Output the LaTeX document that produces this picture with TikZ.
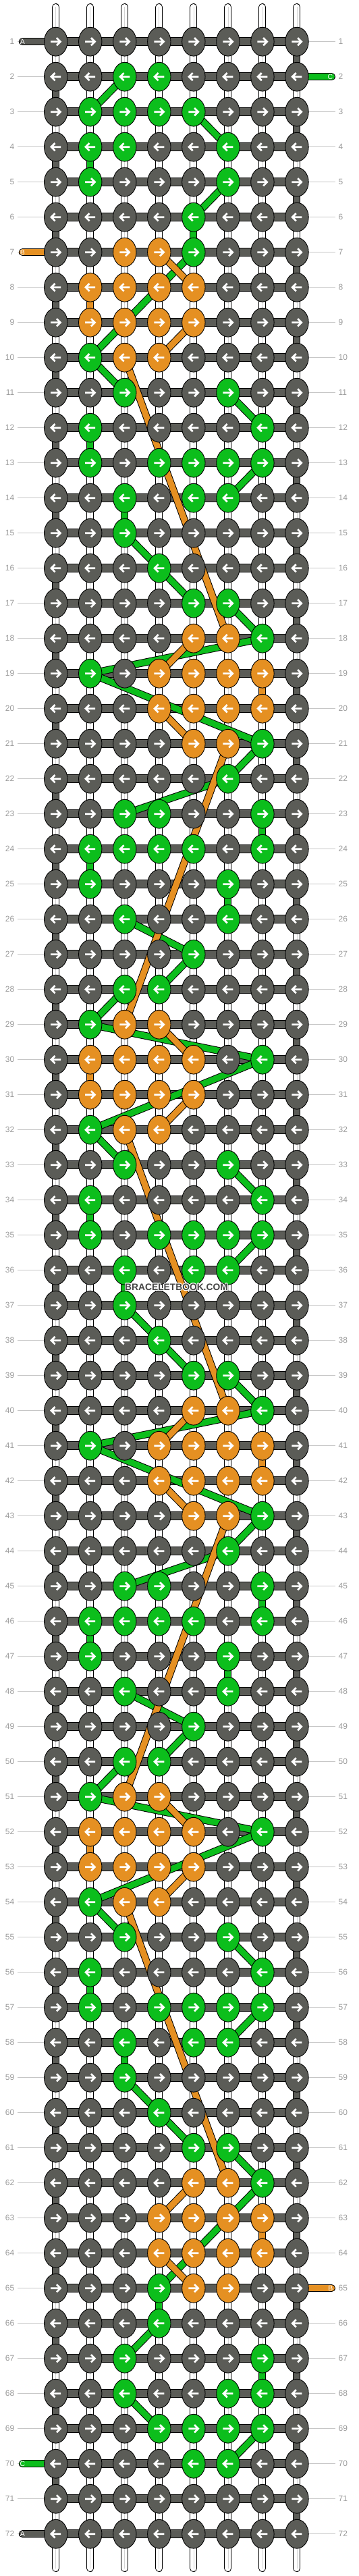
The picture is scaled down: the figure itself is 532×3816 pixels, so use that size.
\documentclass[tikz,border=0pt]{standalone}
\usepackage{fontspec}
\setmainfont{Liberation Sans}
\usetikzlibrary{shapes.geometric}
\definecolor{knotgray}{HTML}{5B5C57}
\definecolor{grn}{HTML}{0CBE1C}
\definecolor{org}{HTML}{E59022}
\definecolor{lbl}{HTML}{9B9B9B}
\definecolor{lblline}{HTML}{C6C6C6}
\definecolor{wmark}{HTML}{454545}
\definecolor{strmid}{HTML}{D4D4D4}
\pgfdeclarelayer{strings}
\pgfdeclarelayer{conn}
\pgfsetlayers{strings,conn,main}
\begin{document}
\begin{tikzpicture}[x=1pt,y=-1pt,
 knot/.style={ellipse, draw=black, line width=0.9pt, minimum width=34.4pt, minimum height=42.8pt, inner sep=0pt},
 arrowline/.style={white, line width=2.7pt, line join=miter, line cap=butt},
 hbar/.style={draw=black, line width=1pt, double=knotgray, double distance=10.5pt},
 vbar/.style={draw=black, line width=1pt, double=knotgray, double distance=9pt},
 gconn/.style={draw=black, line width=1pt, double=grn, double distance=9pt},
 oconn/.style={draw=black, line width=1pt, double=org, double distance=9pt},
 stubA/.style={draw=black, line width=1pt, double=knotgray, double distance=9pt, line cap=round},
 stubB/.style={draw=black, line width=1pt, double=org, double distance=9pt, line cap=round},
 stubC/.style={draw=black, line width=1pt, double=grn, double distance=9pt, line cap=round},
 strg/.style={draw=black, line width=1pt, double=white, double distance=9pt, line cap=round},
 rowlbl/.style={text=lbl, font=\fontsize{12}{14}\selectfont, inner sep=0pt},
 endlbl/.style={text=white, font=\fontsize{10.5}{12}\selectfont, inner sep=0pt},
 lline/.style={draw=lblline, line width=1pt},
 wm/.style={font=\bfseries\fontsize{13.8}{16}\selectfont, inner sep=0pt}]
\useasboundingbox (0,0) rectangle (532,3816);
% colour lookup
\foreach \ri/\ci in {2/3,2/4,3/2,3/3,3/4,3/5,4/2,4/3,4/6,5/2,5/6,6/5,7/5,10/2,11/3,11/6,12/2,12/7,13/2,13/4,13/5,13/6,13/7,14/3,14/5,14/6,15/3,16/4,17/5,17/6,18/7,19/2,21/7,22/6,23/3,23/4,23/7,24/2,24/3,24/4,24/5,24/7,25/2,25/6,26/3,26/6,27/5,28/3,28/4,29/2,30/7,32/2,33/3,33/6,34/2,34/7,35/2,35/4,35/5,35/6,35/7,36/3,36/5,36/6,37/3,38/4,39/5,39/6,40/7,41/2,43/7,44/6,45/3,45/4,45/7,46/2,46/3,46/4,46/5,46/7,47/2,47/6,48/3,48/6,49/5,50/3,50/4,51/2,52/7,54/2,55/3,55/6,56/2,56/7,57/2,57/4,57/5,57/6,57/7,58/3,58/5,58/6,59/3,60/4,61/5,61/6,62/7,65/4,66/4,67/3,67/7,68/3,68/6,68/7,69/4,69/5,69/6,69/7,70/5,70/6}
 {\expandafter\xdef\csname kc-\ri-\ci\endcsname{grn}}
\foreach \ri/\ci in {7/3,7/4,8/2,8/3,8/4,8/5,9/2,9/3,9/4,9/5,10/3,10/4,18/5,18/6,19/4,19/5,19/6,19/7,20/4,20/5,20/6,20/7,21/5,21/6,29/3,29/4,30/2,30/3,30/4,30/5,31/2,31/3,31/4,31/5,32/3,32/4,40/5,40/6,41/4,41/5,41/6,41/7,42/4,42/5,42/6,42/7,43/5,43/6,51/3,51/4,52/2,52/3,52/4,52/5,53/2,53/3,53/4,53/5,54/3,54/4,62/5,62/6,63/4,63/5,63/6,63/7,64/4,64/5,64/6,64/7,65/5,65/6}
 {\expandafter\xdef\csname kc-\ri-\ci\endcsname{org}}
% knots
\foreach \ri in {1,...,72}{
 \pgfmathsetmacro\yy{9.7+52*\ri}
 \node[rowlbl, anchor=east] (ln-\ri) at (21.5,\yy) {\ri};
 \node[rowlbl, anchor=west] (rn-\ri) at (501.5,\yy) {\ri};
 \foreach \ci in {1,...,8}{
  \pgfmathsetmacro\xx{31.66+51.04*\ci}
  \ifcsname kc-\ri-\ci\endcsname\edef\kcol{\csname kc-\ri-\ci\endcsname}\else\def\kcol{knotgray}\fi
  \node[knot, fill=\kcol] (k-\ri-\ci) at (\xx,\yy) {};
  \ifodd\ri\relax
   \draw[arrowline] ({\xx-7.5},\yy) -- ({\xx+6},\yy) ({\xx+1.2},{\yy-5.6}) -- ({\xx+6.8},\yy) -- ({\xx+1.2},{\yy+5.6});
  \else
   \draw[arrowline] ({\xx+7.5},\yy) -- ({\xx-6},\yy) ({\xx-1.2},{\yy-5.6}) -- ({\xx-6.8},\yy) -- ({\xx-1.2},{\yy+5.6});
  \fi
 }
}
% strings layer
\begin{pgfonlayer}{strings}
 \fill[white] (0,0) rectangle (532,3816);
 \foreach \ri in {1,...,72}{
  \draw[lline] ([xshift=4.5pt]ln-\ri.east) -- (k-\ri-1.west);
  \draw[lline] (k-\ri-8.east) -- ([xshift=-4.5pt]rn-\ri.west);
 }
 \foreach \ci in {1,...,8}{
  \pgfmathsetmacro\xx{31.66+51.04*\ci}
  \coordinate (top-\ci) at (\xx,10.5);
  \coordinate (bot-\ci) at (\xx,3804.5);
  \draw[strg] (top-\ci) -- (bot-\ci);
  \draw[strmid, line width=0.7pt] (top-\ci) -- (bot-\ci);
 }
 \foreach \ri in {1,...,72}{
  \draw[hbar] (k-\ri-1.center) -- (k-\ri-8.center);
 }
 \foreach \ri in {1,...,71}{
  \pgfmathtruncatemacro\rn{\ri+1}
  \ifodd\ri\relax
   \draw[vbar] (k-\ri-8.center) -- (k-\rn-8.center);
  \else
   \draw[vbar] (k-\ri-1.center) -- (k-\rn-1.center);
  \fi
 }
\end{pgfonlayer}
% colored strings
\begin{pgfonlayer}{conn}
 \coordinate (eA1) at (33.3,61.7);
 \coordinate (eA2) at (33.3,3753.7);
 \coordinate (eB1) at (33.3,373.7);
 \coordinate (eB2) at (491.5,3389.7);
 \coordinate (eC1) at (491.5,113.7);
 \coordinate (eC2) at (33.3,3649.7);
 \draw[stubA] (eA1) -- (k-1-1.center);
 \draw[stubA] (eA2) -- (k-72-1.center);
 \draw[stubB] (eB1) -- (k-7-1.center);
 \draw[stubB] (eB2) -- (k-65-8.center);
 \draw[stubC] (eC1) -- (k-2-8.center);
 \draw[stubC] (eC2) -- (k-70-1.center);
 \foreach \a/\b in {2-3/3-2,3-5/4-6,4-2/5-2,5-6/6-5,6-5/7-5,7-5/10-2,10-2/11-3,11-6/12-7,12-2/13-2,13-7/14-6,14-3/15-3,15-3/16-4,16-4/17-5,17-6/18-7,18-7/19-2,19-2/21-7,21-7/22-6,22-6/23-3,23-7/24-7,24-2/25-2,25-6/26-6,26-3/27-5,27-5/28-4,28-3/29-2,29-2/30-7,30-7/32-2,32-2/33-3,33-6/34-7,34-2/35-2,35-7/36-6,36-3/37-3,37-3/38-4,38-4/39-5,39-6/40-7,40-7/41-2,41-2/43-7,43-7/44-6,44-6/45-3,45-7/46-7,46-2/47-2,47-6/48-6,48-3/49-5,49-5/50-4,50-3/51-2,51-2/52-7,52-7/54-2,54-2/55-3,55-6/56-7,56-2/57-2,57-7/58-6,58-3/59-3,59-3/60-4,60-4/61-5,61-6/62-7,62-7/65-4,65-4/66-4,66-4/67-3,67-7/68-7,68-3/69-4,69-7/70-6}
  {\draw[gconn] (k-\a.center) -- (k-\b.center);}
 \foreach \a/\b in {7-4/8-5,8-2/9-2,9-5/10-4,10-3/18-6,18-5/19-4,19-7/20-7,20-4/21-5,21-6/29-3,29-4/30-5,30-2/31-2,31-5/32-4,32-3/40-6,40-5/41-4,41-7/42-7,42-4/43-5,43-6/51-3,51-4/52-5,52-2/53-2,53-5/54-4,54-3/62-6,62-5/63-4,63-7/64-7,64-4/65-5}
  {\draw[oconn] (k-\a.center) -- (k-\b.center);}
\end{pgfonlayer}
% end labels
\node[endlbl] (lA1) at (eA1) {A};
\node[endlbl] (lA2) at (eA2) {A};
\node[endlbl] (lB1) at (eB1) {B};
\node[endlbl] (lB2) at (489.8,3389.7) {B};
\node[endlbl] (lC1) at (489.3,113.7) {C};
\node[endlbl] (lC2) at (eC2) {C};
% watermark
\foreach \dx/\dy [count=\n] in {-0.9/0,0.9/0,0/-0.9,0/0.9,-0.65/-0.65,0.65/0.65,-0.65/0.65,0.65/-0.65}
 {\node[wm, text=white] (wmh-\n) at ({261.5+\dx},{1906.7+\dy}) {BRACELETBOOK.COM};}
\node[wm, text=wmark] (wm) at (261.5,1906.7) {BRACELETBOOK.COM};
\end{tikzpicture}
\end{document}
